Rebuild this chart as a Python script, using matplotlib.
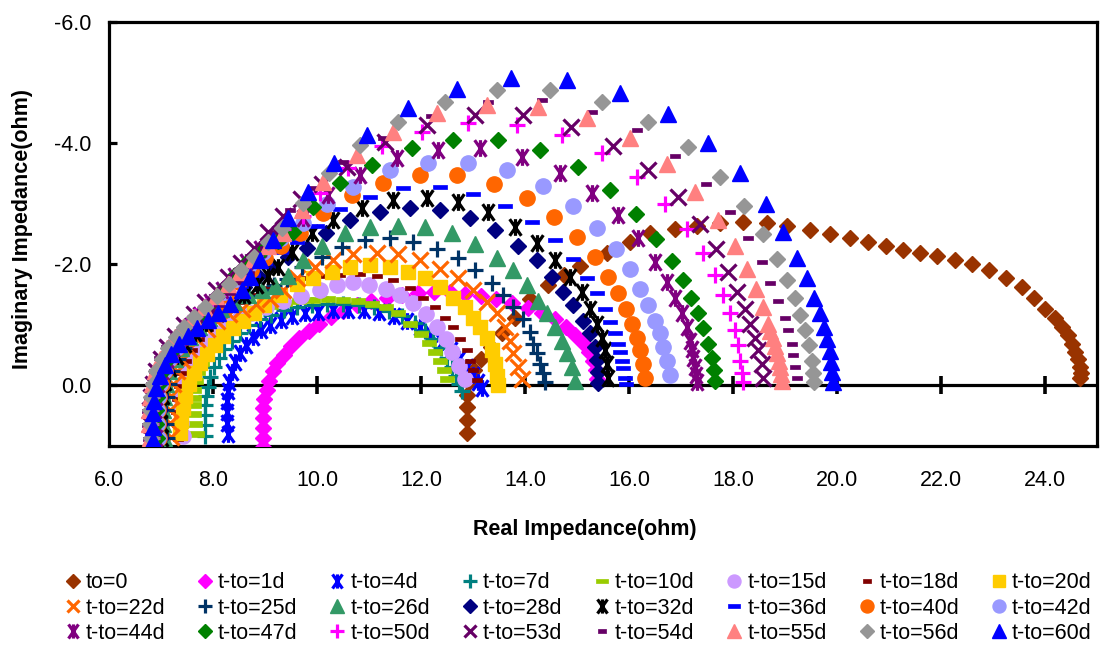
import matplotlib.pyplot as plt
from matplotlib.path import Path

plt.rcParams['font.family'] = ['Liberation Sans', 'DejaVu Sans']
plt.rcParams['axes.unicode_minus'] = False

# Nyquist data (real part, imaginary part in ohm)
labels = ['to=0', 't-to=1d', 't-to=4d', 't-to=7d', 't-to=10d', 't-to=15d',
          't-to=18d', 't-to=20d', 't-to=22d', 't-to=25d', 't-to=26d',
          't-to=28d', 't-to=32d', 't-to=36d', 't-to=40d', 't-to=42d',
          't-to=44d', 't-to=47d', 't-to=50d', 't-to=53d', 't-to=54d',
          't-to=55d', 't-to=56d', 't-to=60d']

re_t0 = [12.88, 12.88, 12.88, 12.88, 12.92, 13.02, 13.15, 13.35, 13.55, 13.8,
         14.1, 14.45, 14.75, 15.06, 15.58, 16.02, 16.4, 16.88, 17.3, 17.75,
         18.19, 18.65, 19.04, 19.48, 19.87, 20.25, 20.6, 20.94, 21.27, 21.6,
         21.92, 22.27, 22.6, 22.92, 23.25, 23.56, 23.79, 24.0, 24.19, 24.33,
         24.45, 24.52, 24.58, 24.63, 24.67, 24.7, 24.67]
im_t0 = [0.79, 0.57, 0.36, 0.15, -0.06, -0.25, -0.44, -0.64, -0.86, -1.12,
         -1.42, -1.65, -1.82, -1.97, -2.18, -2.36, -2.51, -2.58, -2.64, -2.68,
         -2.69, -2.68, -2.64, -2.56, -2.5, -2.44, -2.37, -2.3, -2.23, -2.18,
         -2.13, -2.07, -2.0, -1.91, -1.77, -1.62, -1.45, -1.27, -1.12, -0.96,
         -0.83, -0.69, -0.55, -0.43, -0.3, -0.2, -0.12]

re_t1 = [8.97, 8.97, 8.96, 8.96, 8.97, 8.99, 9.03, 9.08, 9.15, 9.24, 9.36,
         9.5, 9.66, 9.84, 10.04, 10.26, 10.5, 10.76, 11.04, 11.34, 11.64,
         11.95, 12.25, 12.55, 12.85, 13.15, 13.45, 13.75, 14.05, 14.32, 14.57,
         14.78, 14.97, 15.12, 15.23, 15.31, 15.36, 15.39]
im_t1 = [1.02, 0.86, 0.7, 0.54, 0.38, 0.22, 0.07, -0.08, -0.23, -0.37,
         -0.51, -0.65, -0.78, -0.9, -1.02, -1.13, -1.23, -1.32, -1.39, -1.45,
         -1.49, -1.52, -1.54, -1.54, -1.51, -1.47, -1.42, -1.36, -1.28, -1.19,
         -1.09, -0.97, -0.84, -0.7, -0.55, -0.4, -0.25, -0.11]

re_t4 = [8.29, 8.27, 8.26, 8.26, 8.28, 8.31, 8.36, 8.43, 8.52, 8.63, 8.76,
         8.92, 9.1, 9.3, 9.52, 9.76, 10.02, 10.3, 10.6, 10.9, 11.2, 11.48,
         11.74, 11.98, 12.2, 12.4, 12.58, 12.74, 12.88, 13.0, 13.1, 13.17]
im_t4 = [0.8, 0.62, 0.44, 0.26, 0.1, -0.06, -0.22, -0.38, -0.53, -0.67,
         -0.8, -0.91, -1.0, -1.08, -1.14, -1.19, -1.22, -1.24, -1.25, -1.24,
         -1.21, -1.15, -1.07, -0.97, -0.85, -0.72, -0.58, -0.44, -0.3, -0.17,
         -0.05, 0.05]

re_t7 = [7.85, 7.84, 7.84, 7.85, 7.87, 7.9, 7.95, 8.02, 8.11, 8.22, 8.36,
         8.52, 8.7, 8.9, 9.12, 9.36, 9.62, 9.9, 10.2, 10.5, 10.8, 11.1,
         11.38, 11.64, 11.88, 12.08, 12.24, 12.38, 12.5, 12.6, 12.68, 12.74,
         12.78]
im_t7 = [0.83, 0.66, 0.49, 0.32, 0.17, 0.02, -0.14, -0.3, -0.45, -0.6,
         -0.74, -0.87, -0.99, -1.09, -1.17, -1.24, -1.29, -1.32, -1.34, -1.34,
         -1.32, -1.29, -1.23, -1.14, -1.03, -0.9, -0.76, -0.61, -0.46, -0.31,
         -0.16, -0.02, 0.1]

re_t10 = [7.69, 7.66, 7.64, 7.63, 7.63, 7.64, 7.67, 7.72, 7.79, 7.88, 7.99,
          8.12, 8.28, 8.46, 8.66, 8.88, 9.12, 9.38, 9.65, 9.93, 10.22, 10.5,
          10.78, 11.06, 11.32, 11.56, 11.78, 12.0, 12.15, 12.27, 12.37, 12.45,
          12.5]
im_t10 = [0.8, 0.63, 0.47, 0.33, 0.2, 0.07, -0.07, -0.22, -0.37, -0.52,
          -0.66, -0.8, -0.93, -1.05, -1.15, -1.24, -1.31, -1.36, -1.39, -1.41,
          -1.42, -1.41, -1.39, -1.35, -1.29, -1.2, -1.02, -0.85, -0.7, -0.55,
          -0.4, -0.25, -0.1]

re_t15 = [7.42, 7.38, 7.37, 7.39, 7.43, 7.5, 7.6, 7.73, 7.88, 8.06, 8.27,
          8.5, 8.74, 9.02, 9.35, 9.7, 10.06, 10.38, 10.69, 11.0, 11.33, 11.6,
          11.85, 12.1, 12.3, 12.48, 12.6, 12.73, 12.84]
im_t15 = [0.84, 0.62, 0.41, 0.2, 0.0, -0.2, -0.38, -0.55, -0.71, -0.86,
          -0.99, -1.1, -1.2, -1.3, -1.4, -1.48, -1.57, -1.65, -1.7, -1.66,
          -1.6, -1.5, -1.36, -1.18, -0.97, -0.76, -0.55, -0.32, -0.1]

re_t18 = [7.33, 7.3, 7.29, 7.3, 7.34, 7.4, 7.49, 7.6, 7.74, 7.91, 8.1, 8.32,
          8.56, 8.82, 9.1, 9.4, 9.72, 10.05, 10.44, 10.83, 11.15, 11.46,
          11.79, 12.04, 12.27, 12.46, 12.62, 12.75, 12.88, 12.94, 13.0, 13.08]
im_t18 = [0.88, 0.66, 0.44, 0.22, 0.01, -0.2, -0.4, -0.58, -0.76, -0.93,
          -1.09, -1.24, -1.38, -1.5, -1.61, -1.7, -1.77, -1.81, -1.83, -1.84,
          -1.8, -1.74, -1.61, -1.45, -1.29, -1.12, -0.97, -0.77, -0.58, -0.41,
          -0.25, -0.09]

re_t20 = [7.37, 7.38, 7.42, 7.47, 7.54, 7.63, 7.75, 7.88, 8.03, 8.2, 8.38,
          8.58, 8.78, 8.98, 9.29, 9.62, 9.92, 10.29, 10.63, 11.02, 11.4,
          11.75, 12.08, 12.37, 12.62, 12.85, 13.0, 13.13, 13.27, 13.37, 13.42,
          13.46, 13.48]
im_t20 = [0.79, 0.58, 0.38, 0.18, -0.02, -0.2, -0.37, -0.52, -0.67, -0.81,
          -0.94, -1.07, -1.2, -1.33, -1.5, -1.67, -1.77, -1.87, -1.95, -1.98,
          -1.95, -1.87, -1.77, -1.62, -1.45, -1.29, -1.12, -0.96, -0.79, -0.58,
          -0.36, -0.15, 0.0]

re_t22 = [7.2, 7.17, 7.17, 7.19, 7.24, 7.31, 7.41, 7.54, 7.7, 7.88, 8.08,
          8.3, 8.55, 8.82, 9.1, 9.35, 9.62, 9.96, 10.31, 10.69, 11.15, 11.56,
          11.98, 12.37, 12.71, 13.0, 13.27, 13.46, 13.62, 13.71, 13.77, 13.87,
          13.94]
im_t22 = [0.85, 0.62, 0.4, 0.18, -0.03, -0.23, -0.42, -0.6, -0.77, -0.93,
          -1.07, -1.18, -1.27, -1.34, -1.42, -1.58, -1.77, -1.95, -2.07, -2.17,
          -2.18, -2.17, -2.07, -1.92, -1.77, -1.57, -1.37, -1.19, -0.96, -0.74,
          -0.53, -0.3, -0.1]

re_t25 = [7.12, 7.09, 7.09, 7.11, 7.15, 7.22, 7.32, 7.45, 7.6, 7.78, 7.98,
          8.2, 8.44, 8.7, 8.95, 9.18, 9.42, 9.71, 10.1, 10.48, 10.92, 11.4,
          11.85, 12.31, 12.71, 13.04, 13.37, 13.58, 13.77, 13.96, 14.1, 14.15,
          14.23, 14.29, 14.35, 14.38]
im_t25 = [0.86, 0.63, 0.41, 0.19, -0.02, -0.23, -0.43, -0.62, -0.8, -0.97,
          -1.12, -1.25, -1.37, -1.48, -1.58, -1.65, -1.76, -1.95, -2.12, -2.28,
          -2.4, -2.43, -2.36, -2.26, -2.1, -1.9, -1.69, -1.49, -1.29, -1.1,
          -0.88, -0.69, -0.53, -0.36, -0.2, -0.05]

re_t26 = [7.05, 7.03, 7.03, 7.05, 7.09, 7.16, 7.26, 7.39, 7.55, 7.73, 7.93,
          8.15, 8.4, 8.67, 8.95, 9.2, 9.44, 9.73, 10.1, 10.54, 11.02, 11.56,
          12.08, 12.6, 13.04, 13.46, 13.77, 14.04, 14.25, 14.42, 14.58, 14.71,
          14.81, 14.9, 14.96]
im_t26 = [0.86, 0.63, 0.41, 0.19, -0.02, -0.23, -0.43, -0.62, -0.8, -0.97,
          -1.12, -1.26, -1.38, -1.49, -1.58, -1.64, -1.8, -2.07, -2.3, -2.51,
          -2.61, -2.64, -2.61, -2.51, -2.33, -2.11, -1.9, -1.65, -1.4, -1.19,
          -0.96, -0.74, -0.53, -0.3, -0.08]

re_t28 = [7.0, 6.98, 6.98, 7.0, 7.04, 7.11, 7.21, 7.34, 7.5, 7.68, 7.88,
          8.1, 8.34, 8.6, 8.86, 9.12, 9.45, 9.81, 10.17, 10.63, 11.21, 11.79,
          12.37, 12.94, 13.42, 13.87, 14.23, 14.52, 14.73, 14.92, 15.12, 15.25,
          15.35, 15.38, 15.4, 15.41]
im_t28 = [0.86, 0.63, 0.41, 0.19, -0.02, -0.23, -0.43, -0.62, -0.8, -0.97,
          -1.13, -1.29, -1.45, -1.62, -1.8, -1.98, -2.12, -2.27, -2.51, -2.73,
          -2.86, -2.93, -2.89, -2.76, -2.56, -2.31, -2.07, -1.79, -1.54, -1.32,
          -1.07, -0.86, -0.63, -0.42, -0.22, -0.04]

re_t32 = [7.02, 7.0, 7.0, 7.03, 7.08, 7.17, 7.3, 7.46, 7.65, 7.87, 8.1, 8.34,
          8.6, 8.85, 9.05, 9.25, 9.52, 9.9, 10.31, 10.87, 11.46, 12.12, 12.71,
          13.29, 13.81, 14.23, 14.58, 14.87, 15.1, 15.25, 15.38, 15.48, 15.54,
          15.58, 15.6]
im_t32 = [0.86, 0.62, 0.4, 0.17, -0.06, -0.28, -0.49, -0.68, -0.86, -1.03,
          -1.2, -1.36, -1.5, -1.65, -1.8, -1.96, -2.2, -2.51, -2.73, -2.93,
          -3.06, -3.09, -3.03, -2.86, -2.61, -2.35, -2.07, -1.79, -1.54, -1.27,
          -1.02, -0.79, -0.58, -0.36, -0.13]

re_t36 = [6.98, 6.96, 6.96, 6.98, 7.02, 7.09, 7.19, 7.32, 7.48, 7.66, 7.86,
          8.08, 8.3, 8.53, 8.76, 9.0, 9.3, 9.62, 10.0, 10.44, 11.02, 11.65,
          12.37, 13.0, 13.62, 14.13, 14.58, 14.92, 15.19, 15.38, 15.54, 15.63,
          15.73, 15.79, 15.83, 15.87, 15.88, 15.92, 15.94]
im_t36 = [0.86, 0.63, 0.41, 0.19, -0.02, -0.23, -0.43, -0.62, -0.8, -0.97,
          -1.13, -1.29, -1.46, -1.64, -1.83, -2.02, -2.2, -2.37, -2.64, -2.91,
          -3.11, -3.26, -3.27, -3.16, -2.96, -2.69, -2.4, -2.08, -1.77, -1.52,
          -1.26, -1.04, -0.86, -0.69, -0.55, -0.41, -0.28, -0.13, -0.02]

re_t40 = [6.97, 6.95, 6.95, 6.97, 7.01, 7.08, 7.18, 7.31, 7.46, 7.64, 7.84,
          8.05, 8.27, 8.5, 8.74, 9.0, 9.3, 9.67, 10.12, 10.67, 11.27, 11.98,
          12.69, 13.4, 14.04, 14.56, 15.0, 15.35, 15.6, 15.79, 15.94, 16.06,
          16.15, 16.21, 16.27, 16.31]
im_t40 = [0.86, 0.63, 0.41, 0.19, -0.02, -0.23, -0.43, -0.62, -0.8, -0.97,
          -1.14, -1.31, -1.5, -1.7, -1.9, -2.1, -2.3, -2.51, -2.84, -3.14,
          -3.34, -3.47, -3.47, -3.32, -3.09, -2.78, -2.45, -2.12, -1.79, -1.52,
          -1.27, -1.02, -0.79, -0.58, -0.36, -0.13]

re_t42 = [6.95, 6.93, 6.93, 6.95, 6.99, 7.06, 7.16, 7.28, 7.43, 7.6, 7.79,
          8.0, 8.22, 8.45, 8.7, 8.96, 9.3, 9.73, 10.19, 10.69, 11.4, 12.13,
          12.9, 13.65, 14.35, 14.92, 15.38, 15.75, 16.02, 16.21, 16.37, 16.5,
          16.6, 16.65, 16.73, 16.79]
im_t42 = [0.86, 0.63, 0.41, 0.19, -0.02, -0.23, -0.43, -0.62, -0.8, -0.98,
          -1.16, -1.35, -1.55, -1.76, -1.98, -2.2, -2.44, -2.68, -3.0, -3.27,
          -3.55, -3.67, -3.67, -3.55, -3.29, -2.96, -2.6, -2.25, -1.92, -1.6,
          -1.32, -1.07, -0.86, -0.63, -0.41, -0.17]

re_t44 = [6.9, 6.88, 6.88, 6.9, 6.94, 7.01, 7.11, 7.23, 7.38, 7.55, 7.74,
          7.95, 8.17, 8.4, 8.64, 8.9, 9.25, 9.73, 10.21, 10.83, 11.54, 12.33,
          13.13, 13.94, 14.67, 15.29, 15.79, 16.17, 16.5, 16.73, 16.88, 17.02,
          17.12, 17.17, 17.21, 17.23, 17.26, 17.28, 17.3]
im_t44 = [0.86, 0.63, 0.41, 0.19, -0.02, -0.23, -0.43, -0.62, -0.8, -0.98,
          -1.17, -1.37, -1.58, -1.8, -2.03, -2.26, -2.5, -2.76, -3.14, -3.47,
          -3.75, -3.88, -3.92, -3.77, -3.5, -3.17, -2.81, -2.43, -2.03, -1.7,
          -1.44, -1.19, -0.96, -0.74, -0.6, -0.46, -0.3, -0.17, -0.06]

re_t47 = [6.92, 6.9, 6.9, 6.92, 6.96, 7.03, 7.13, 7.26, 7.41, 7.58, 7.77,
          7.98, 8.2, 8.43, 8.67, 8.95, 9.25, 9.54, 9.92, 10.44, 11.06, 11.83,
          12.62, 13.48, 14.29, 15.02, 15.63, 16.13, 16.52, 16.83, 17.04, 17.19,
          17.33, 17.42, 17.52, 17.6, 17.63, 17.65]
im_t47 = [0.86, 0.63, 0.41, 0.19, -0.02, -0.23, -0.43, -0.62, -0.8, -0.98,
          -1.17, -1.38, -1.6, -1.83, -2.06, -2.22, -2.38, -2.53, -2.94, -3.34,
          -3.64, -3.92, -4.05, -4.05, -3.88, -3.6, -3.22, -2.83, -2.41, -2.05,
          -1.74, -1.44, -1.19, -0.94, -0.69, -0.46, -0.25, -0.08]

re_t50 = [6.82, 6.8, 6.8, 6.82, 6.86, 6.93, 7.03, 7.15, 7.3, 7.47, 7.66,
          7.87, 8.09, 8.32, 8.56, 8.8, 9.05, 9.35, 9.73, 10.06, 10.6, 11.25,
          12.02, 12.9, 13.85, 14.71, 15.48, 16.15, 16.69, 17.12, 17.42, 17.65,
          17.81, 17.94, 18.04, 18.1, 18.13, 18.17, 18.19]
im_t50 = [0.86, 0.63, 0.41, 0.19, -0.02, -0.23, -0.43, -0.62, -0.8, -0.97,
          -1.14, -1.31, -1.5, -1.7, -1.92, -2.15, -2.38, -2.58, -2.8, -3.17,
          -3.59, -3.95, -4.18, -4.33, -4.3, -4.13, -3.83, -3.44, -3.0, -2.59,
          -2.18, -1.82, -1.49, -1.19, -0.91, -0.66, -0.41, -0.2, -0.05]

re_t53 = [6.8, 6.78, 6.78, 6.8, 6.84, 6.91, 7.0, 7.12, 7.27, 7.44, 7.63,
          7.84, 8.06, 8.29, 8.53, 8.78, 9.05, 9.35, 9.7, 10.1, 10.58, 11.31,
          12.12, 13.04, 13.96, 14.88, 15.69, 16.37, 16.94, 17.37, 17.67, 17.9,
          18.08, 18.23, 18.33, 18.42, 18.48, 18.56, 18.58]
im_t53 = [0.86, 0.63, 0.41, 0.19, -0.02, -0.23, -0.43, -0.63, -0.82, -1.0,
          -1.18, -1.37, -1.57, -1.79, -2.02, -2.27, -2.53, -2.8, -3.07, -3.33,
          -3.6, -4.02, -4.3, -4.46, -4.46, -4.26, -3.95, -3.55, -3.11, -2.66,
          -2.25, -1.87, -1.54, -1.27, -1.02, -0.79, -0.58, -0.36, -0.13]

re_t54 = [6.75, 6.74, 6.74, 6.76, 6.8, 6.87, 6.97, 7.1, 7.26, 7.45, 7.67,
          7.94, 8.12, 8.33, 8.52, 8.7, 8.85, 9.0, 9.15, 9.48, 9.9, 10.5, 11.27,
          12.2, 13.29, 14.33, 15.29, 16.15, 16.88, 17.48, 17.94, 18.29, 18.56,
          18.71, 18.87, 19.0, 19.06, 19.13, 19.15, 19.19, 19.23]
im_t54 = [0.88, 0.65, 0.42, 0.2, -0.02, -0.24, -0.45, -0.64, -0.82, -0.98,
          -1.12, -1.22, -1.33, -1.52, -1.7, -1.86, -2.02, -2.27, -2.53, -2.89,
          -3.26, -3.69, -4.08, -4.45, -4.68, -4.71, -4.51, -4.21, -3.79, -3.32,
          -2.86, -2.43, -2.03, -1.69, -1.39, -1.12, -0.91, -0.69, -0.5, -0.3,
          -0.13]

re_t55 = [6.78, 6.76, 6.76, 6.78, 6.82, 6.89, 6.99, 7.11, 7.26, 7.43, 7.62,
          7.83, 8.05, 8.28, 8.52, 8.76, 9.05, 9.35, 9.71, 10.12, 10.77, 11.46,
          12.31, 13.27, 14.25, 15.19, 16.02, 16.73, 17.27, 17.71, 18.04, 18.27,
          18.44, 18.58, 18.67, 18.72, 18.77, 18.81, 18.85, 18.88, 18.9, 18.92,
          18.94]
im_t55 = [0.86, 0.63, 0.41, 0.19, -0.02, -0.23, -0.43, -0.62, -0.8, -0.97,
          -1.13, -1.3, -1.48, -1.68, -1.88, -2.08, -2.3, -2.51, -2.89, -3.36,
          -3.8, -4.18, -4.5, -4.63, -4.6, -4.41, -4.08, -3.65, -3.19, -2.73,
          -2.31, -1.93, -1.6, -1.29, -1.02, -0.9, -0.78, -0.65, -0.53, -0.41,
          -0.3, -0.19, -0.08]

re_t56 = [6.8, 6.78, 6.78, 6.8, 6.84, 6.91, 7.01, 7.13, 7.28, 7.45, 7.64,
          7.85, 8.07, 8.3, 8.54, 8.78, 9.05, 9.33, 9.73, 10.23, 10.83, 11.56,
          12.46, 13.46, 14.48, 15.48, 16.37, 17.13, 17.75, 18.21, 18.58, 18.85,
          19.04, 19.19, 19.29, 19.38, 19.46, 19.52, 19.54, 19.56]
im_t56 = [0.86, 0.63, 0.41, 0.19, -0.02, -0.23, -0.43, -0.62, -0.8, -0.97,
          -1.13, -1.3, -1.48, -1.68, -1.9, -2.12, -2.36, -2.6, -3.02, -3.5,
          -3.97, -4.35, -4.68, -4.88, -4.88, -4.68, -4.35, -3.93, -3.44, -2.96,
          -2.5, -2.08, -1.74, -1.44, -1.16, -0.91, -0.66, -0.41, -0.2, -0.05]

re_t60 = [6.85, 6.84, 6.85, 6.87, 6.91, 6.98, 7.08, 7.2, 7.35, 7.52, 7.7,
          7.9, 8.1, 8.33, 8.56, 8.71, 8.9, 9.15, 9.44, 9.83, 10.33, 10.96,
          11.75, 12.69, 13.73, 14.81, 15.83, 16.75, 17.52, 18.13, 18.63, 18.96,
          19.23, 19.42, 19.56, 19.67, 19.75, 19.81, 19.86, 19.89, 19.91, 19.92]
im_t60 = [0.9, 0.68, 0.46, 0.25, 0.05, -0.15, -0.34, -0.52, -0.68, -0.82,
          -0.95, -1.08, -1.2, -1.34, -1.57, -1.79, -2.07, -2.4, -2.76, -3.19,
          -3.67, -4.13, -4.58, -4.89, -5.07, -5.04, -4.83, -4.48, -4.0, -3.5,
          -2.99, -2.53, -2.1, -1.77, -1.45, -1.2, -0.97, -0.77, -0.57, -0.39,
          -0.22, -0.06]

re_data = [re_t0, re_t1, re_t4, re_t7, re_t10, re_t15, re_t18, re_t20, re_t22,
           re_t25, re_t26, re_t28, re_t32, re_t36, re_t40, re_t42, re_t44,
           re_t47, re_t50, re_t53, re_t54, re_t55, re_t56, re_t60]
im_data = [im_t0, im_t1, im_t4, im_t7, im_t10, im_t15, im_t18, im_t20, im_t22,
           im_t25, im_t26, im_t28, im_t32, im_t36, im_t40, im_t42, im_t44,
           im_t47, im_t50, im_t53, im_t54, im_t55, im_t56, im_t60]

# Excel style marker shapes
star = Path([(-0.7, -1), (0.7, 1), (-0.7, 1), (0.7, -1), (0, -1), (0, 1)],
            [Path.MOVETO, Path.LINETO, Path.MOVETO, Path.LINETO,
             Path.MOVETO, Path.LINETO])


def dash(h):
    return Path([(-1, -h), (1, -h), (1, h), (-1, h), (-1, -h)],
                [Path.MOVETO, Path.LINETO, Path.LINETO, Path.LINETO,
                 Path.CLOSEPOLY])


# (marker, size, colour, edge width)
styles = [
    ('D', 8.4, '#993300', 1),
    ('D', 8.4, '#FF00FF', 1),
    (star, 12, '#0000FF', 2.3),
    ('+', 12, '#008080', 2.3),
    (dash(0.4), 10.5, '#99CC00', 0.5),
    ('o', 11, '#CC99FF', 1),
    (dash(0.45), 7.5, '#800000', 0.5),
    ('s', 10.5, '#FFCC00', 1),
    ('x', 11, '#FF6600', 2.3),
    ('+', 12, '#003366', 2.3),
    ('^', 11.5, '#339966', 1),
    ('D', 8.4, '#000080', 1),
    (star, 12, '#000000', 2.3),
    (dash(0.3), 10.5, '#0000FF', 0.5),
    ('o', 11, '#FF6600', 1),
    ('o', 11, '#9999FF', 1),
    (star, 12, '#800080', 2.3),
    ('D', 8.4, '#008000', 1),
    ('+', 12, '#FF00FF', 2.3),
    ('x', 11, '#660066', 2.3),
    (dash(0.45), 7.5, '#660066', 0.5),
    ('^', 11.5, '#FF8080', 1),
    ('D', 8.4, '#969696', 1),
    ('^', 11.5, '#0000FF', 1),
]

fig = plt.figure(figsize=(11.03, 6.57), dpi=100)
ax = fig.add_axes([109 / 1103, 211 / 657, 988 / 1103, 424 / 657])

handles = []
for lab, xs, ys, (mk, ms, col, mew) in zip(labels, re_data, im_data, styles):
    h, = ax.plot(xs, ys, ls='none', marker=mk, ms=ms, color=col,
                 mfc=col, mec=col, mew=mew, label=lab, zorder=3)
    handles.append(h)

ax.set_xlim(6, 25)
ax.set_ylim(1, -6)
ax.set_xticks([6, 8, 10, 12, 14, 16, 18, 20, 22, 24])
ax.set_yticks([-6, -4, -2, 0])
ax.xaxis.set_major_formatter(plt.FormatStrFormatter('%.1f'))
ax.yaxis.set_major_formatter(plt.FormatStrFormatter('%.1f'))

for sp in ax.spines.values():
    sp.set_linewidth(2.3)
    sp.set_color('black')
ax.tick_params(axis='x', length=0, pad=17, labelsize=15.5)
ax.tick_params(axis='y', direction='in', length=6, width=2.3, pad=13,
               labelsize=15.5)

# horizontal axis crossing at zero, with its tick marks
ax.axhline(0, color='black', lw=2.3, zorder=2)
xt = ax.get_xticks()[1:]
ax.plot(xt, [0] * len(xt), ls='none', marker='|', ms=13, mew=2.6,
        color='black', zorder=2)

fig.text(585 / 1103, 1 - 530 / 657, 'Real Impedance(ohm)', ha='center',
         va='center', fontsize=15.5, fontweight='bold')
fig.text(23 / 1103, 1 - 229 / 657, 'Imaginary Impedance(ohm)', ha='center',
         va='center', rotation=90, fontsize=15.5, fontweight='bold')

# legend reads row by row like the original (matplotlib fills by column)
order = [r * 8 + c for c in range(8) for r in range(3)]
leg = fig.legend([handles[i] for i in order], [labels[i] for i in order],
                 loc='center', bbox_to_anchor=(578 / 1103, 1 - 608 / 657),
                 ncol=8, frameon=False, fontsize=15.5, handlelength=0.8,
                 handletextpad=0.2, columnspacing=1.45, labelspacing=0.2,
                 borderpad=0, markerscale=0.85)

fig.savefig('out.png', dpi=100)
